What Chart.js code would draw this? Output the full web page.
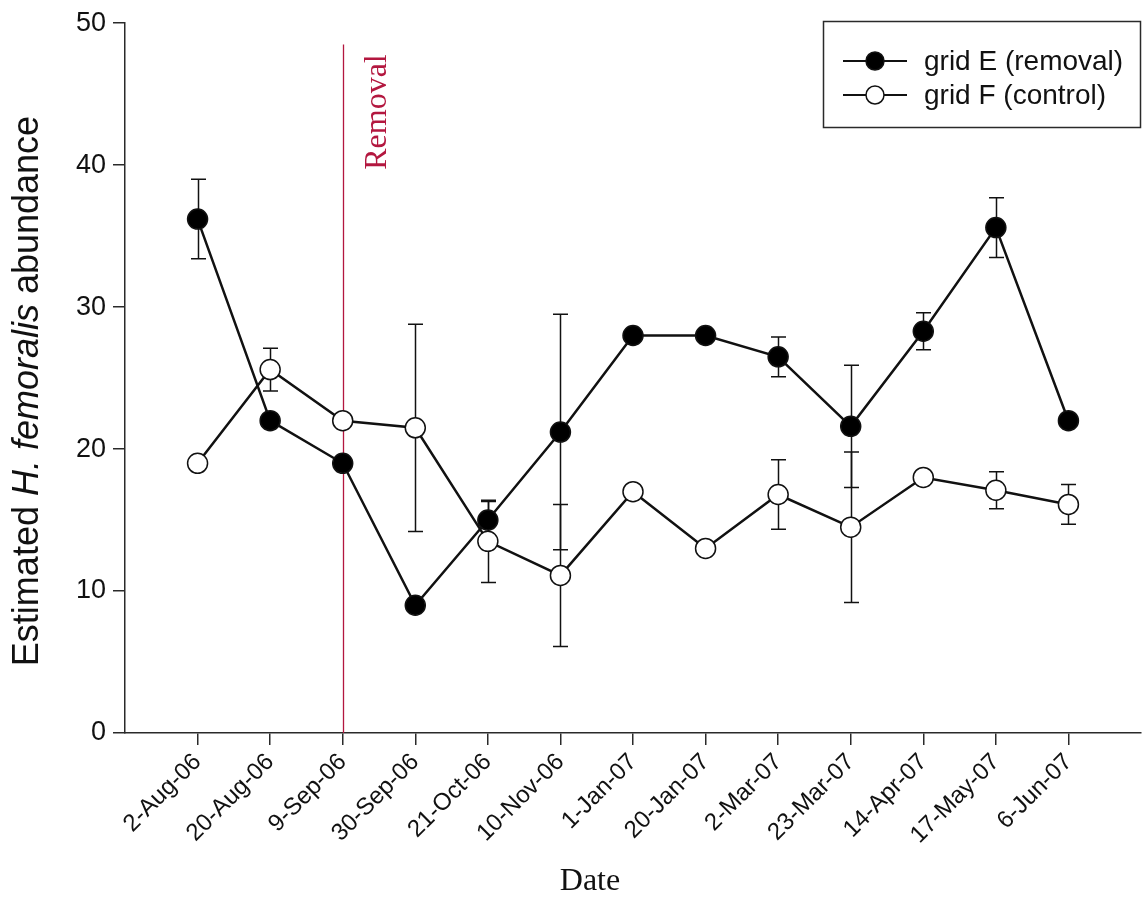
<!DOCTYPE html>
<html>
<head>
<meta charset="utf-8">
<title>Estimated H. femoralis abundance</title>
<script src="https://cdn.jsdelivr.net/npm/chart.js@4.4.0/dist/chart.umd.min.js"></script>
<style>
  html, body { margin: 0; padding: 0; background: #ffffff; }
  #wrap { width: 1143px; height: 897px; position: relative; }
</style>
</head>
<body>
<div id="wrap"><canvas id="chart" width="1143" height="897"></canvas></div>
<script>
// Sampling dates (one per trapping session)
const dates = ['2-Aug-06', '20-Aug-06', '9-Sep-06', '30-Sep-06', '21-Oct-06', '10-Nov-06',
               '1-Jan-07', '20-Jan-07', '2-Mar-07', '23-Mar-07', '14-Apr-07', '17-May-07', '6-Jun-07'];

// Grid E (removal): estimate and error half-width (0 = no bar)
const gridE    = [36.2, 22.0, 19.0, 9.0, 15.0, 21.2, 28.0, 28.0, 26.5, 21.6, 28.3, 35.6, 22.0];
const gridEErr = [2.8, 0, 0, 0, 1.3, 8.3, 0, 0, 1.4, 4.3, 1.3, 2.1, 0];

// Grid F (control)
const gridF    = [19.0, 25.6, 22.0, 21.5, 13.5, 11.1, 17.0, 13.0, 16.8, 14.5, 18.0, 17.1, 16.1];
const gridFErr = [0, 1.5, 0, 7.3, 2.9, 5.0, 0, 0, 2.45, 5.3, 0, 1.3, 1.4];

const yTicks = [0, 10, 20, 30, 40, 50];
const seriesNames = ['grid E (removal)', 'grid F (control)'];

// Removal event marker
const removalDate = '9-Sep-06';
const removalLabel = 'Removal';
const removalTop = 48.5;

const axisTitleY = ['Estimated ', 'H. femoralis', ' abundance'];
const axisTitleX = 'Date';

const toPoints = arr => arr.map((v, i) => ({ x: i + 1, y: v }));

const INK = '#111111';
const AXIS = '#2a2a2a';
const RED = '#b3173f';

// Vertical error bars with caps, drawn beneath the markers
const errorBars = {
  id: 'errorBars',
  beforeDatasetsDraw(chart) {
    const { ctx, scales: { x, y } } = chart;
    const sets = [[gridE, gridEErr], [gridF, gridFErr]];
    ctx.save();
    ctx.strokeStyle = INK;
    ctx.lineWidth = 1.5;
    const cap = 7.5;
    sets.forEach(([vals, errs]) => {
      vals.forEach((v, i) => {
        const e = errs[i];
        if (!e) return;
        const px = Math.round(x.getPixelForValue(i + 1)) + 0.5;
        const top = y.getPixelForValue(v + e);
        const bot = y.getPixelForValue(v - e);
        ctx.beginPath();
        ctx.moveTo(px, top); ctx.lineTo(px, bot);
        ctx.moveTo(px - cap, top); ctx.lineTo(px + cap, top);
        ctx.moveTo(px - cap, bot); ctx.lineTo(px + cap, bot);
        ctx.stroke();
      });
    });
    ctx.restore();
  }
};

// Removal line with its rotated label
const removalMarker = {
  id: 'removalMarker',
  beforeDatasetsDraw(chart) {
    const { ctx, scales: { x, y } } = chart;
    const px = Math.round(x.getPixelForValue(dates.indexOf(removalDate) + 1)) + 0.5;
    ctx.save();
    ctx.strokeStyle = RED;
    ctx.lineWidth = 1.3;
    ctx.beginPath();
    ctx.moveTo(px, y.getPixelForValue(removalTop));
    ctx.lineTo(px, y.getPixelForValue(0));
    ctx.stroke();
    ctx.fillStyle = RED;
    ctx.font = '32px "Liberation Serif", "Times New Roman", serif';
    ctx.textAlign = 'center';
    ctx.textBaseline = 'alphabetic';
    ctx.translate(px + 42, 112);
    ctx.rotate(-Math.PI / 2);
    ctx.fillText(removalLabel, 0, 0);
    ctx.restore();
  }
};

// Axis titles (mixed italic) and boxed legend
const annotations = {
  id: 'annotations',
  afterDraw(chart) {
    const { ctx } = chart;
    ctx.save();
    // y title
    const fonts = ['36px "Liberation Sans", Arial, sans-serif',
                   'italic 36px "Liberation Sans", Arial, sans-serif',
                   '36px "Liberation Sans", Arial, sans-serif'];
    let total = 0;
    const widths = axisTitleY.map((s, i) => { ctx.font = fonts[i]; const w = ctx.measureText(s).width; total += w; return w; });
    ctx.translate(38, 391);
    ctx.rotate(-Math.PI / 2);
    ctx.fillStyle = INK;
    ctx.textBaseline = 'alphabetic';
    ctx.textAlign = 'left';
    let cx = -total / 2;
    axisTitleY.forEach((s, i) => { ctx.font = fonts[i]; ctx.fillText(s, cx, 0); cx += widths[i]; });
    ctx.restore();

    // x title
    ctx.save();
    ctx.fillStyle = INK;
    ctx.font = '32px "Liberation Serif", "Times New Roman", serif';
    ctx.textAlign = 'center';
    ctx.textBaseline = 'alphabetic';
    ctx.fillText(axisTitleX, 590, 890);
    ctx.restore();

    // legend
    ctx.save();
    const bx = 823.5, by = 21.5, bw = 317, bh = 106;
    ctx.strokeStyle = AXIS;
    ctx.lineWidth = 1.5;
    ctx.strokeRect(bx, by, bw, bh);
    const rows = [61, 95];
    chart.data.datasets.forEach((ds, i) => {
      const ry = rows[i];
      ctx.strokeStyle = INK;
      ctx.lineWidth = 2.2;
      ctx.beginPath();
      ctx.moveTo(843, ry); ctx.lineTo(907, ry);
      ctx.stroke();
      ctx.beginPath();
      ctx.arc(875, ry, 9, 0, Math.PI * 2);
      ctx.fillStyle = ds.pointBackgroundColor;
      ctx.fill();
      ctx.lineWidth = 1.5;
      ctx.stroke();
      ctx.fillStyle = INK;
      ctx.font = '28px "Liberation Sans", Arial, sans-serif';
      ctx.textAlign = 'left';
      ctx.textBaseline = 'middle';
      ctx.fillText(ds.label, 924, ry + 1);
    });
    ctx.restore();
  }
};

new Chart(document.getElementById('chart'), {
  type: 'line',
  data: {
    datasets: [
      {
        label: seriesNames[0],
        data: toPoints(gridE),
        borderColor: INK,
        borderWidth: 2.5,
        pointRadius: 10,
        pointBackgroundColor: '#000000',
        pointBorderColor: INK,
        pointBorderWidth: 1.5,
        tension: 0,
        clip: false
      },
      {
        label: seriesNames[1],
        data: toPoints(gridF),
        borderColor: INK,
        borderWidth: 2.5,
        pointRadius: 10,
        pointBackgroundColor: '#ffffff',
        pointBorderColor: INK,
        pointBorderWidth: 1.5,
        tension: 0,
        clip: false
      }
    ]
  },
  options: {
    responsive: false,
    devicePixelRatio: 1,
    animation: false,
    events: [],
    layout: { autoPadding: false, padding: { left: 0, top: 20, right: 2, bottom: 0 } },
    plugins: {
      legend: { display: false },
      tooltip: { enabled: false },
      title: { display: false }
    },
    scales: {
      x: {
        type: 'linear',
        min: 0,
        max: dates.length + 1,
        afterBuildTicks(scale) { scale.ticks = dates.map((_, i) => ({ value: i + 1 })); },
        afterFit(scale) { scale.height = 164; scale.paddingRight = 0; scale.paddingLeft = 0; },
        border: { display: true, color: AXIS, width: 1.5 },
        grid: { display: true, drawOnChartArea: false, drawTicks: true, tickLength: 12, color: AXIS, lineWidth: 1.5 },
        ticks: {
          autoSkip: false,
          maxRotation: 45,
          minRotation: 45,
          padding: 3,
          color: INK,
          font: { family: '"Liberation Sans", Arial, sans-serif', size: 24 },
          callback: v => dates[v - 1] ?? ''
        }
      },
      y: {
        min: 0,
        max: 50,
        afterBuildTicks(scale) { scale.ticks = yTicks.map(v => ({ value: v })); },
        afterFit(scale) { scale.width = 125; },
        border: { display: true, color: AXIS, width: 1.5 },
        grid: { display: true, drawOnChartArea: false, drawTicks: true, tickLength: 12, color: AXIS, lineWidth: 1.5 },
        ticks: {
          padding: 7,
          color: INK,
          font: { family: '"Liberation Sans", Arial, sans-serif', size: 27 }
        }
      }
    }
  },
  plugins: [errorBars, removalMarker, annotations]
});
</script>
</body>
</html>
